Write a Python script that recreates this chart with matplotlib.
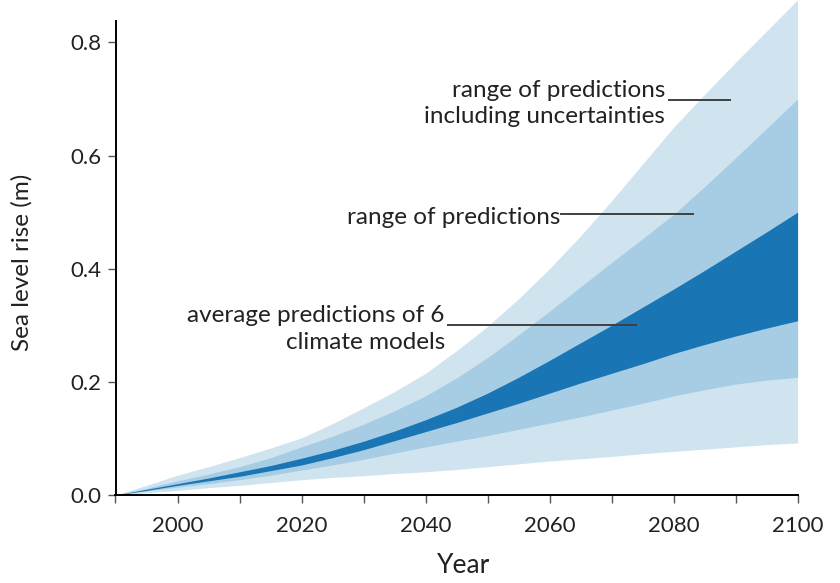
import matplotlib
matplotlib.use("Agg")
import matplotlib.pyplot as plt

years = [1990, 1995, 2000, 2005, 2010, 2015, 2020, 2025, 2030, 2035, 2040, 2045,
         2050, 2055, 2060, 2065, 2070, 2075, 2080, 2085, 2090, 2095, 2100]
outer_top = [0, 0.017, 0.035, 0.050, 0.066, 0.083, 0.101, 0.126, 0.154, 0.183, 0.215, 0.255,
             0.298, 0.347, 0.400, 0.458, 0.520, 0.585, 0.650, 0.708, 0.765, 0.820, 0.875]
mid_top = [0, 0.012, 0.025, 0.037, 0.050, 0.066, 0.085, 0.104, 0.125, 0.149, 0.175, 0.207,
           0.243, 0.283, 0.325, 0.368, 0.411, 0.453, 0.496, 0.545, 0.596, 0.648, 0.700]
dark_top = [0, 0.010, 0.020, 0.030, 0.041, 0.052, 0.065, 0.079, 0.095, 0.113, 0.133, 0.155,
            0.180, 0.208, 0.238, 0.269, 0.300, 0.332, 0.364, 0.397, 0.431, 0.465, 0.500]
dark_bot = [0, 0.008, 0.017, 0.025, 0.033, 0.043, 0.053, 0.066, 0.080, 0.096, 0.112, 0.128,
            0.145, 0.162, 0.180, 0.198, 0.215, 0.232, 0.250, 0.266, 0.281, 0.295, 0.308]
mid_bot = [0, 0.007, 0.014, 0.020, 0.027, 0.035, 0.044, 0.053, 0.063, 0.074, 0.085, 0.095,
           0.105, 0.116, 0.127, 0.138, 0.150, 0.162, 0.175, 0.186, 0.196, 0.203, 0.208]
outer_bot = [0, 0.004, 0.008, 0.013, 0.017, 0.022, 0.027, 0.031, 0.034, 0.038, 0.041, 0.045,
             0.050, 0.055, 0.060, 0.064, 0.068, 0.073, 0.077, 0.081, 0.085, 0.089, 0.092]

xtick_major = [2000, 2020, 2040, 2060, 2080, 2100]
xtick_minor = [1990, 2010, 2030, 2050, 2070, 2090]
ytick_vals = [0.0, 0.2, 0.4, 0.6, 0.8]

label_texts = ["range of predictions\nincluding uncertainties",
               "range of predictions",
               "average predictions of 6\nclimate models"]
label_pos = [(2078.6, 0.692), (2061.8, 0.491), (2043.1, 0.294)]
leader_lines = [(2079.3, 2089.1, 0.699), (2061.8, 2083.1, 0.497), (2043.6, 2073.9, 0.301)]

c_light = "#d0e4ef"
c_mid = "#a7cde5"
c_dark = "#1a75b4"

plt.rcParams['font.family'] = ['Lato', 'DejaVu Sans']

fig = plt.figure(figsize=(8.4, 5.83), dpi=100)
ax = fig.add_axes([0.1375, 0.151, 0.812, 0.849])

ax.fill_between(years, outer_bot, outer_top, color=c_light, lw=0, clip_on=False)
ax.fill_between(years, mid_bot, mid_top, color=c_mid, lw=0, clip_on=False)
ax.fill_between(years, dark_bot, dark_top, color=c_dark, lw=0, clip_on=False)

ax.set_xlim(1990, 2100)
ax.set_ylim(0, 0.875)

for s in ["top", "right"]:
    ax.spines[s].set_visible(False)
ax.spines["left"].set_bounds(0, 0.837)
ax.spines["left"].set_linewidth(1.4)
ax.spines["bottom"].set_linewidth(1.4)

ax.set_xticks(xtick_major)
ax.set_xticks(xtick_minor, minor=True)
ax.set_yticks(ytick_vals)
ax.set_yticklabels([f"{v:.1f}" for v in ytick_vals])
ax.tick_params(axis="both", which="both", direction="out", length=6, width=1.0, color="#555555")
ax.tick_params(axis="x", labelsize=16, pad=9, labelcolor="#222222")
ax.tick_params(axis="y", labelsize=16, pad=4, labelcolor="#222222")
ax.set_xlabel("Year", fontsize=19, color="#222222")
ax.set_ylabel("Sea level rise (m)", fontsize=17.5, color="#222222")
ax.xaxis.set_label_coords(0.51, -0.117)
ax.yaxis.set_label_coords(-0.121, 0.47)

for text, (tx, ty), (x0, x1, ly) in zip(label_texts, label_pos, leader_lines):
    ax.text(tx, ty, text, ha="right", va="center", fontsize=17.5, color="#222222",
            multialignment="right", linespacing=1.35)
    ax.plot([x0, x1], [ly, ly], color="#404040", lw=1.4)

fig.savefig("out.png", dpi=100, facecolor="white")
